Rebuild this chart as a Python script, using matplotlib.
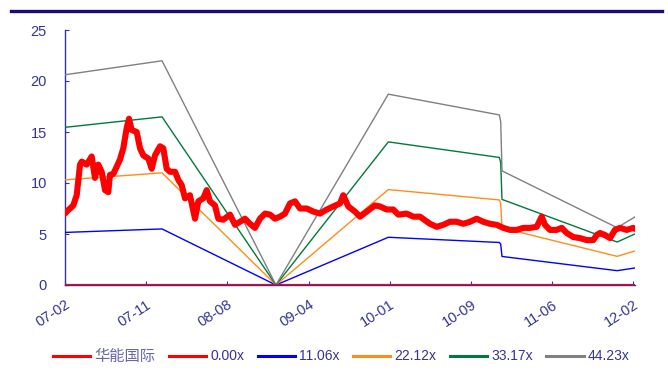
import matplotlib
matplotlib.use("Agg")
import matplotlib.pyplot as plt
from matplotlib.lines import Line2D

plt.rcParams['font.family'] = ['Liberation Sans', 'Noto Sans CJK SC', 'DejaVu Sans']

# x positions in units of tick periods (07-02 = 0, 12-02 = 7)
tick_labels = ["07-02", "07-11", "08-08", "09-04", "10-01", "10-09", "11-06", "12-02"]

price_t = [0.000, 0.021, 0.102, 0.144, 0.185, 0.206, 0.267, 0.329, 0.369, 0.410,
           0.452, 0.493, 0.533, 0.554, 0.595, 0.637, 0.677, 0.718, 0.760, 0.788,
           0.821, 0.883, 0.924, 0.965, 1.026, 1.068, 1.108, 1.170, 1.211, 1.252,
           1.293, 1.355, 1.396, 1.437, 1.478, 1.539, 1.601, 1.642, 1.703, 1.745,
           1.786, 1.847, 1.888, 1.949, 2.032, 2.094, 2.155, 2.217, 2.278, 2.340,
           2.401, 2.463, 2.525, 2.586, 2.648, 2.709, 2.771, 2.833, 2.894, 2.977,
           3.058, 3.140, 3.223, 3.304, 3.387, 3.427, 3.489, 3.571, 3.633, 3.716,
           3.818, 3.879, 3.962, 4.043, 4.105, 4.208, 4.289, 4.372, 4.495, 4.578,
           4.659, 4.741, 4.824, 4.905, 4.988, 5.070, 5.151, 5.234, 5.317, 5.398,
           5.480, 5.563, 5.644, 5.727, 5.809, 5.871, 5.911, 5.973, 6.055, 6.117,
           6.179, 6.260, 6.342, 6.425, 6.506, 6.548, 6.589, 6.650, 6.712, 6.773,
           6.835, 6.918, 6.999, 7.020]
price = [7.0, 7.2, 7.8, 8.8, 11.8, 12.1, 11.8, 12.6, 10.5, 11.8,
         11.1, 9.3, 9.1, 10.8, 10.9, 11.6, 12.3, 13.4, 15.4, 16.3,
         15.2, 15.0, 13.4, 12.7, 12.4, 11.4, 12.7, 13.6, 13.4, 11.4,
         11.1, 11.1, 10.3, 9.8, 8.5, 8.8, 6.5, 8.2, 8.5, 9.3,
         8.2, 7.8, 6.5, 6.4, 6.9, 5.9, 6.2, 6.5, 6.0, 5.6,
         6.5, 7.0, 6.9, 6.5, 6.7, 7.0, 8.0, 8.2, 7.5, 7.5,
         7.2, 7.0, 7.4, 7.7, 8.0, 8.8, 7.7, 7.2, 6.7, 7.2,
         7.8, 7.7, 7.4, 7.4, 6.9, 7.0, 6.7, 6.7, 6.0, 5.7,
         5.9, 6.2, 6.2, 6.0, 6.2, 6.5, 6.2, 6.0, 5.9, 5.6,
         5.4, 5.4, 5.6, 5.6, 5.7, 6.7, 5.9, 5.4, 5.4, 5.6,
         5.1, 4.7, 4.6, 4.4, 4.4, 4.9, 5.1, 4.9, 4.6, 5.4,
         5.6, 5.4, 5.6, 5.5]

eps_t = [0.0, 1.195, 2.598, 3.982, 5.349, 5.366, 5.382, 6.80, 7.02]
eps = [0.466, 0.497, 0.0, 0.423, 0.377, 0.362, 0.253, 0.127, 0.151]

multiples = [0.00, 11.06, 22.12, 33.17, 44.23]
band_labels = ["0.00x", "11.06x", "22.12x", "33.17x", "44.23x"]
band_colors = ["#ff0000", "#0000ff", "#ff8c1a", "#007a3d", "#808080"]
stock_name = "华能国际"

navy = "#333399"

fig = plt.figure(figsize=(6.68, 3.85), dpi=100)
ax = fig.add_axes([65/668, 1-285/385, 570/668, 255/385])

for m, lab, c in zip(multiples, band_labels, band_colors):
    ax.plot(eps_t, [m * e for e in eps], color=c, lw=1.0 if m > 0 else 1.6,
            label=lab, zorder=3 if m > 0 else 5)
ax.plot(price_t, price, color="#ff0000", lw=4.4, solid_capstyle='round',
        solid_joinstyle='round', label=stock_name, zorder=4)

ax.set_xlim(0, 7.02)
ax.set_ylim(0, 25)
ax.set_yticks([0, 5, 10, 15, 20, 25])
ax.set_xticks(range(len(tick_labels)))
ax.set_xticklabels(tick_labels, rotation=33, ha='right', rotation_mode='anchor')
ax.tick_params(axis='both', direction='in', colors=navy, labelsize=10.5, length=3)
ax.tick_params(axis='y', pad=13)
ax.tick_params(axis='x', pad=9)
for s in ['top', 'right']:
    ax.spines[s].set_visible(False)
for s in ['left', 'bottom']:
    ax.spines[s].set_color(navy)
    ax.spines[s].set_linewidth(1.0)

handles, labels = ax.get_legend_handles_labels()
order = [5, 0, 1, 2, 3, 4]
leg_handles = [Line2D([0], [0], color=handles[i].get_color(), lw=2.2) for i in order]
leg = fig.legend(leg_handles, [labels[i] for i in order], loc='center',
                 bbox_to_anchor=(0.511, 1-356/385), ncol=6, frameon=False,
                 fontsize=10, handlelength=2.7, handletextpad=0.3,
                 columnspacing=0.95)
for t in leg.get_texts():
    t.set_color(navy)
leg.get_texts()[0].set_family(['Noto Sans CJK SC', 'DejaVu Sans'])
leg.get_texts()[0].set_fontsize(11)
leg.get_texts()[0].set_color("#6666aa")

fig.add_artist(Line2D([11/668, 662/668], [1-10.5/385, 1-10.5/385],
                      color="#1a0a80", lw=2.4, transform=fig.transFigure))

fig.savefig("out.png", dpi=100)
